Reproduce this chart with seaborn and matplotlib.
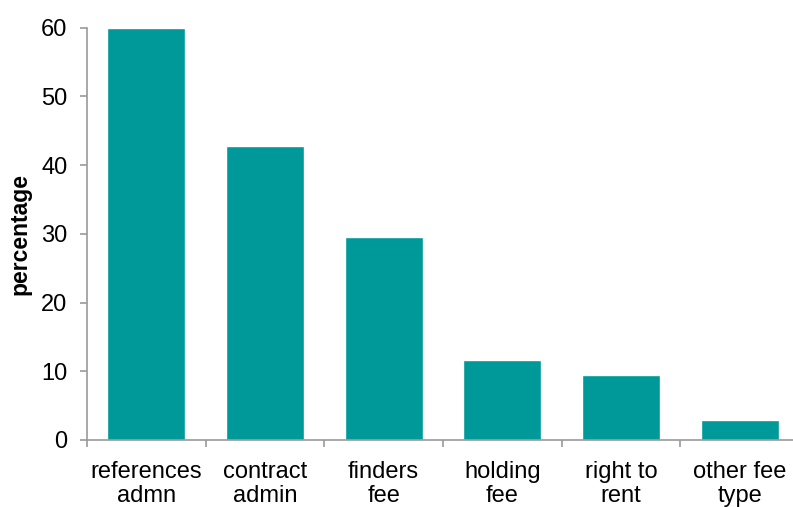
import matplotlib
matplotlib.use("Agg")
import matplotlib.pyplot as plt
import seaborn as sns
import pandas as pd
import numpy as np

categories = ["references\nadmn", "contract\nadmin", "finders\nfee", "holding\nfee", "right to\nrent", "other fee\ntype"]
values = [60.0, 42.7, 29.6, 11.7, 9.4, 2.9]

sns.set_style("white")
plt.rcParams['font.family'] = ['Liberation Sans', 'DejaVu Sans']
plt.rcParams['text.color'] = 'black'
plt.rcParams['xtick.color'] = 'black'
plt.rcParams['ytick.color'] = 'black'
plt.rcParams['axes.labelcolor'] = 'black'

df = pd.DataFrame({"category": categories, "percentage": values})

fig = plt.figure(figsize=(7.93, 5.07), dpi=100)
ax = fig.add_axes([87/793, 1-440/507, (799-87)/793, (440-27.5)/507])
sns.barplot(data=df, x="category", y="percentage", color="#009999", width=0.655,
            saturation=1, ax=ax)

ax.set_ylim(0, 60)
ax.set_xlim(-0.5, 5.5)
ax.set_yticks(np.arange(0, 61, 10))
ax.set_xlabel("")
ax.set_ylabel("percentage", fontsize=16.5, fontweight="bold", labelpad=7)

for s in ["top", "right"]:
    ax.spines[s].set_visible(False)
for s in ["left", "bottom"]:
    ax.spines[s].set_color("#9a9a9a")
    ax.spines[s].set_linewidth(1.2)

ax.tick_params(axis="y", which="major", direction="out", length=5, width=1.2,
               color="#9a9a9a", labelcolor="black", labelsize=17, pad=9, left=True)
ax.set_xticks(np.arange(-0.5, 6, 1), minor=True)
ax.tick_params(axis="x", which="minor", direction="out", length=5, width=1.2,
               color="#9a9a9a", bottom=True)
ax.tick_params(axis="x", which="major", length=0, labelsize=17, labelcolor="black", pad=15)
for lbl in ax.get_xticklabels():
    lbl.set_linespacing(1.15)

fig.savefig("out.png", dpi=100)
